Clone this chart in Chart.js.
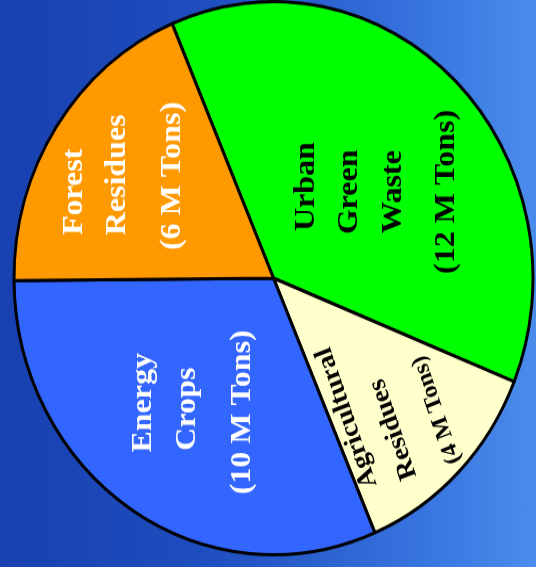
<!DOCTYPE html>
<html>
<head>
<meta charset="utf-8">
<script src="https://cdn.jsdelivr.net/npm/chart.js@4"></script>
<style>
  html, body { margin: 0; padding: 0; overflow: hidden; }
  body {
    width: 536px; height: 567px;
    background: linear-gradient(to right, #1840b0 0%, #1f4fc0 40%, #3570dc 75%, #4a8cec 100%);
  }
  #pie { display: block; }
</style>
</head>
<body>
<!-- the original picture is stretched a little vertically, so the canvas is too -->
<canvas id="pie" width="536" height="532" style="width:536px;height:567px"></canvas>
<script>
const categories = ['Urban Green Waste', 'Agricultural Residues', 'Energy Crops', 'Forest Residues'];
const tons = [12, 4, 10, 6];   // million tons
const sliceColors = ['#00ff00', '#ffffcc', '#3366ff', '#ff9900'];
const labelLines = [
  ['Urban', 'Green', 'Waste', '(12 M Tons)'],
  ['Agricultural', 'Residues', '(4 M Tons)'],
  ['Energy', 'Crops', '(10 M Tons)'],
  ['Forest', 'Residues', '(6 M Tons)']
];

// where each label block sits, as a fraction of the radius from the centre
const labelLayout = [
  { fx: 0.395, fy: -0.312, angle: -90, align: 'center', color: '#000',
    sizes: [30, 30, 30, 30], along: [5, 0, 0, 0], perp: [-70, -27, 17, 70] },
  { fx: 0.524, fy: 0.717, angle: -110, align: 'left', color: '#000',
    sizes: [26, 26, 23], along: [4, -2, -4], perp: [-40, 0, 47] },
  { fx: -0.310, fy: 0.477, angle: -90, align: 'center', color: '#fff',
    sizes: [30, 30, 30], along: [7, 1, -2], perp: [-50, -6, 49] },
  { fx: -0.574, fy: -0.370, angle: -90, align: 'center', color: '#fff',
    sizes: [30, 30, 30], along: [-15, 1, 0], perp: [-50, -7, 48] }
];

const sliceLabels = {
  id: 'sliceLabels',
  afterDatasetsDraw(chart) {
    const ctx = chart.ctx;
    const meta = chart.getDatasetMeta(0);
    meta.data.forEach((arc, i) => {
      const L = labelLayout[i];
      const R = arc.outerRadius;
      ctx.save();
      ctx.translate(arc.x + L.fx * R, arc.y + L.fy * R);
      ctx.rotate(L.angle * Math.PI / 180);
      ctx.fillStyle = L.color;
      ctx.textAlign = L.align;
      ctx.textBaseline = 'middle';
      labelLines[i].forEach((t, j) => {
        ctx.font = 'bold ' + L.sizes[j] + 'px "Liberation Serif", "Times New Roman", serif';
        ctx.fillText(t, L.along[j], L.perp[j]);
      });
      ctx.restore();
    });
  }
};

new Chart(document.getElementById('pie').getContext('2d'), {
  type: 'pie',
  data: {
    labels: categories,
    datasets: [{
      data: tons,
      backgroundColor: sliceColors,
      borderColor: '#000',
      borderWidth: 3
    }]
  },
  options: {
    responsive: false,
    devicePixelRatio: 1,
    animation: false,
    rotation: -23,
    layout: { padding: { left: 11, right: 0, top: 0, bottom: 10 } },
    plugins: {
      legend: { display: false },
      tooltip: { enabled: false }
    }
  },
  plugins: [sliceLabels]
});
</script>
</body>
</html>
